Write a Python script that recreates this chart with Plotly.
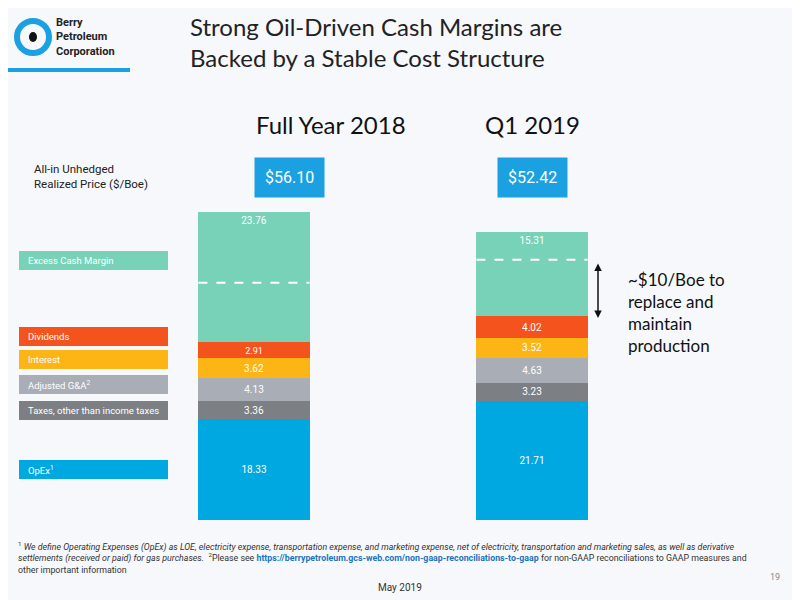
import plotly.graph_objects as go

periods = ["Full Year 2018", "Q1 2019"]
components = ["OpEx", "Taxes, other than income taxes", "Adjusted G&A", "Interest", "Dividends", "Excess Cash Margin"]
values = {
    "OpEx": [18.33, 21.71],
    "Taxes, other than income taxes": [3.36, 3.23],
    "Adjusted G&A": [4.13, 4.63],
    "Interest": [3.62, 3.52],
    "Dividends": [2.91, 4.02],
    "Excess Cash Margin": [23.76, 15.31],
}
prices = ["$56.10", "$52.42"]
dash_levels = [43.2, 47.4]
legend_labels = ["OpEx<sup>1</sup>", "Taxes, other than income taxes", "Adjusted G&A<sup>2</sup>", "Interest", "Dividends", "Excess Cash Margin"]

colors = {
    "OpEx": "#00A8E2",
    "Taxes, other than income taxes": "#7C8085",
    "Adjusted G&A": "#A9ADB6",
    "Interest": "#FDB515",
    "Dividends": "#F5531E",
    "Excess Cash Margin": "#77D2B8",
}

fig = go.Figure()
for c in components:
    fig.add_bar(x=periods, y=values[c], marker=dict(color=colors[c], line=dict(width=0)),
                text=[f"{v:.2f}" for v in values[c]], textposition="inside",
                insidetextanchor="middle" if c != "Excess Cash Margin" else "end",
                textfont=dict(color="white", size=10, family="Roboto"), width=0.403, name=c)
for i, p in enumerate(periods):
    fig.add_trace(go.Scatter(x=[i - 0.2, i + 0.2], y=[dash_levels[i]] * 2, mode="lines",
                             line=dict(color="white", width=2, dash="dash"), xaxis="x2", showlegend=False))

OFF = 8
W, H = 800 - OFF, 600 - OFF
def py(y): return 1 - (y - OFF) / H
def px(x): return (x - OFF) / W

fig.update_layout(
    width=W, height=H, margin=dict(l=0, r=0, t=0, b=0),
    paper_bgcolor="#F7F8FC", plot_bgcolor="rgba(0,0,0,0)",
    barmode="stack", showlegend=False,
    xaxis=dict(domain=[px(115), px(671)], range=[-0.5, 1.5], visible=False),
    xaxis2=dict(domain=[px(115), px(671)], range=[-0.5, 1.5], visible=False, overlaying="x"),
    yaxis=dict(domain=[py(520), py(212)], range=[0, 56.10], visible=False),
    font=dict(family="Roboto"),
)

shapes = []
anns = []
def ann(**kw):
    kw.setdefault("xref", "paper"); kw.setdefault("yref", "paper")
    kw.setdefault("yanchor", "middle"); kw.setdefault("showarrow", False)
    anns.append(kw)

shapes.append(dict(type="line", xref="paper", yref="paper", x0=0, x1=px(130), y0=py(70), y1=py(70),
                   line=dict(color="#1BA1E2", width=4)))
shapes.append(dict(type="circle", xref="paper", yref="paper", x0=px(17), x1=px(49), y0=py(53), y1=py(21),
                   line=dict(color="#1BA1E2", width=6), fillcolor="rgba(0,0,0,0)"))
shapes.append(dict(type="circle", xref="paper", yref="paper", x0=px(29), x1=px(37), y0=py(42), y1=py(32),
                   line=dict(width=0), fillcolor="#111"))
ann(x=px(54), y=py(37), xanchor="left", text="<b>Berry<br>Petroleum<br>Corporation</b>", align="left",
    font=dict(size=11, color="#222", family="Roboto"))
ann(x=px(188), y=py(42), xanchor="left", text="Strong Oil-Driven Cash Margins are<br>Backed by a Stable Cost Structure",
    align="left", font=dict(size=24, color="#222", family="Lato"))
for i, (p, xc) in enumerate(zip(periods, [254, 532])):
    ann(x=px(xc), y=py(124), text=p, font=dict(size=24, color="#111", family="Lato"))
    ann(x=px(xc), y=py(177), text=prices[i], bgcolor="#1BA1E2", borderpad=10,
        font=dict(size=16, color="white", family="Roboto"))
ann(x=px(32), y=py(176), xanchor="left", text="All-in Unhedged<br>Realized Price ($/Boe)", align="left",
    font=dict(size=11.5, color="#222"))
boxes = [(460, 479), (401, 420), (375, 394), (350, 369), (327, 346), (251, 270)]
for c, lab, (y0, y1) in zip(components, legend_labels, boxes):
    shapes.append(dict(type="rect", xref="paper", yref="paper", x0=px(19), x1=px(168), y0=py(y1), y1=py(y0),
                       fillcolor=colors[c], line=dict(width=0)))
    ann(x=px(26), y=py((y0 + y1) / 2), xanchor="left", text=lab, font=dict(size=9.5, color="white"))
anns.append(dict(x=px(598), y=py(318), ax=0, ay=-56, xref="paper", yref="paper",
                 showarrow=True, arrowhead=2, arrowside="end+start", arrowwidth=1.5, arrowcolor="#111", text=""))
ann(x=px(626), y=py(312), xanchor="left", text="~$10/Boe to<br>replace and<br>maintain<br>production", align="left",
    font=dict(size=17, color="#111", family="Lato"))
ann(x=px(16), y=py(557), xanchor="left", align="left",
    text="<sup>1</sup> <i>We define Operating Expenses (OpEx) as LOE, electricity expense, transportation expense, and marketing expense, net of electricity, transportation and marketing sales, as well as derivative</i><br>"
         "<i>settlements (received or paid) for gas purchases.</i>  <sup>2</sup>Please see <b><span style='color:#1B75BC'>https://berrypetroleum.gcs-web.com/non-gaap-reconciliations-to-gaap</span></b> for non-GAAP reconciliations to GAAP measures and<br>other important information",
    font=dict(size=8.8, color="#333", family="Roboto"))
ann(x=px(782), y=py(577), xanchor="right", text="19", font=dict(size=9, color="#888"))
ann(x=px(400), y=py(587), text="May 2019", font=dict(size=10, color="#333"))

fig.update_layout(shapes=shapes, annotations=anns)
fig.write_html("out.html")
